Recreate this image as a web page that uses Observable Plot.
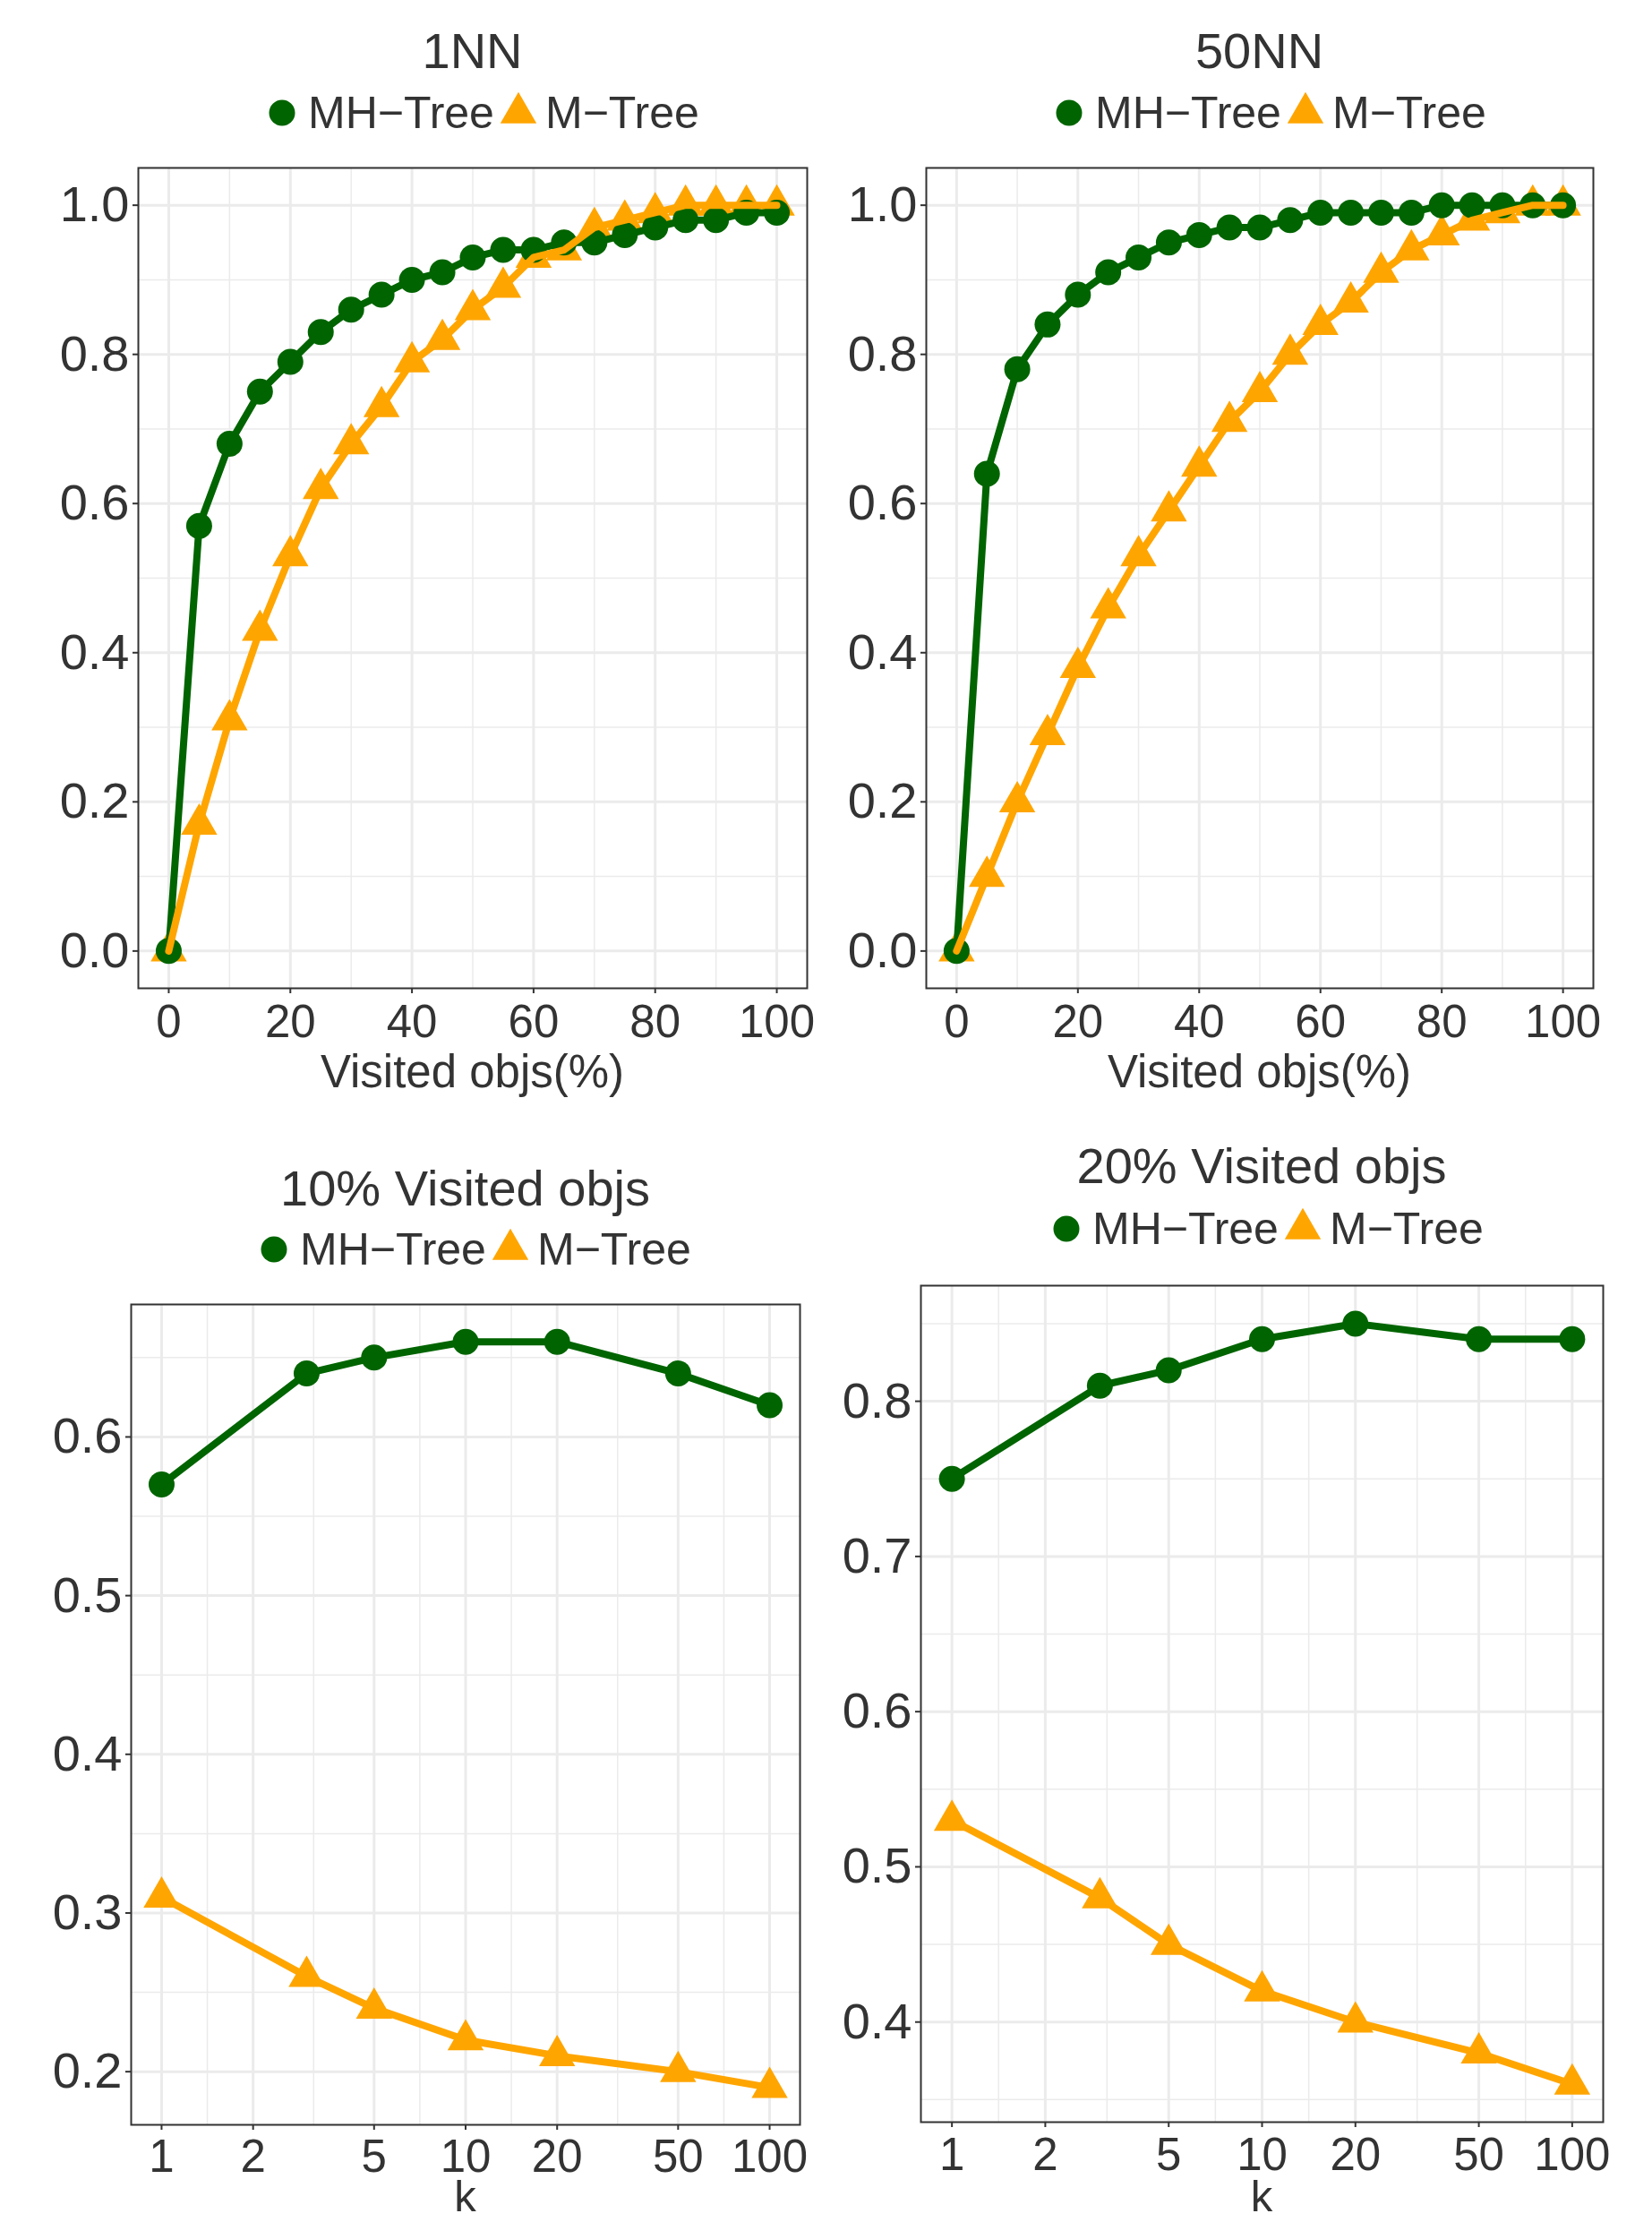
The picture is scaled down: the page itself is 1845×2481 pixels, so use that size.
<!DOCTYPE html>
<html><head><meta charset="utf-8">
<script src="https://cdn.jsdelivr.net/npm/d3@7"></script>
<script src="https://cdn.jsdelivr.net/npm/@observablehq/plot@0.6"></script>
<style>
body{margin:0;background:#fff;}
#root{position:relative;width:1845px;height:2481px;overflow:hidden;background:#fff;font-family:"Liberation Sans",Arial,Helvetica,sans-serif;color:#333333;}
.abs{position:absolute;white-space:nowrap;}
</style></head><body><div id="root"></div>
<script>
// ---------- data ----------
const visitedPct = [0, 5, 10, 15, 20, 25, 30, 35, 40, 45, 50, 55, 60, 65, 70, 75, 80, 85, 90, 95, 100];
const mh1NN  = [0, 0.57, 0.68, 0.75, 0.79, 0.83, 0.86, 0.88, 0.90, 0.91, 0.93, 0.94, 0.94, 0.95, 0.95, 0.96, 0.97, 0.98, 0.98, 0.99, 0.99];
const m1NN   = [0, 0.17, 0.31, 0.43, 0.53, 0.62, 0.68, 0.73, 0.79, 0.82, 0.86, 0.89, 0.93, 0.94, 0.97, 0.98, 0.99, 1.00, 1.00, 1.00, 1.00];
const mh50NN = [0, 0.64, 0.78, 0.84, 0.88, 0.91, 0.93, 0.95, 0.96, 0.97, 0.97, 0.98, 0.99, 0.99, 0.99, 0.99, 1.00, 1.00, 1.00, 1.00, 1.00];
const m50NN  = [0, 0.10, 0.20, 0.29, 0.38, 0.46, 0.53, 0.59, 0.65, 0.71, 0.75, 0.80, 0.84, 0.87, 0.91, 0.94, 0.96, 0.98, 0.99, 1.00, 1.00];
const kValues = [1, 3, 5, 10, 20, 50, 100];
const mh10pct = [0.57, 0.64, 0.65, 0.66, 0.66, 0.64, 0.62];
const m10pct  = [0.31, 0.26, 0.24, 0.22, 0.21, 0.20, 0.19];
const mh20pct = [0.75, 0.81, 0.82, 0.84, 0.85, 0.84, 0.84];
const m20pct  = [0.53, 0.48, 0.45, 0.42, 0.40, 0.38, 0.36];
const seriesNames = ["MH\u2212Tree", "M\u2212Tree"];
const panelTitles = ["1NN", "50NN", "10% Visited objs", "20% Visited objs"];
const xTitles = ["Visited objs(%)", "Visited objs(%)", "k", "k"];
const linearXTicks = [0, 20, 40, 60, 80, 100];
const logXTicks = [1, 2, 5, 10, 20, 50, 100];
const yTicksFull = [0, 0.2, 0.4, 0.6, 0.8, 1.0];
const yTicks10 = [0.2, 0.3, 0.4, 0.5, 0.6];
const yTicks20 = [0.4, 0.5, 0.6, 0.7, 0.8];

// ---------- styles ----------
const seriesColors = ["#006400", "#FFA500"];
const FONT = "'Liberation Sans', Arial, Helvetica, sans-serif";
const TEXT = "#333333";
const GRID = "#EBEBEB";
const LINE_W = 8;

// layout: panel rectangles in page coordinates
const layout = [
  {left: 0,   L: 154,  R: 901,  T: 187,  B: 1103, titleBase: 77,   legend: [315, 126],  xTitleBase: 1215, xTitleSize: 51, xPad: 12},
  {left: 922, L: 1034, R: 1779, T: 187,  B: 1103, titleBase: 77,   legend: [1194, 126], xTitleBase: 1215, xTitleSize: 51, xPad: 12},
  {left: 0,   L: 146,  R: 893,  T: 1456, B: 2372, titleBase: 1347, legend: [306, 1395], xTitleBase: 2470, xTitleSize: 49, xPad: 10},
  {left: 922, L: 1028, R: 1790, T: 1435, B: 2369, titleBase: 1322, legend: [1191, 1372], xTitleBase: 2470, xTitleSize: 49, xPad: 11}
];
const panelData = [
  {x: visitedPct, mh: mh1NN,  m: m1NN,   log: false, xTicks: linearXTicks, yTicks: yTicksFull},
  {x: visitedPct, mh: mh50NN, m: m50NN,  log: false, xTicks: linearXTicks, yTicks: yTicksFull},
  {x: kValues,    mh: mh10pct, m: m10pct, log: true,  xTicks: logXTicks,    yTicks: yTicks10},
  {x: kValues,    mh: mh20pct, m: m20pct, log: true,  xTicks: logXTicks,    yTicks: yTicks20}
];

const root = document.getElementById("root");

// text whose box is tight around the glyphs
function textAt(str, x, baseline, size, center) {
  const d = document.createElement("div");
  d.className = "abs";
  d.textContent = str;
  const lh = 0.797 * size;
  const baseInBox = (lh - 1.117 * size) / 2 + 0.905 * size;
  d.style.fontSize = size + "px";
  d.style.lineHeight = lh + "px";
  d.style.height = lh + "px";
  d.style.top = (baseline - baseInBox) + "px";
  if (center) { d.style.left = (x - 600) + "px"; d.style.width = "1200px"; d.style.textAlign = "center"; }
  else d.style.left = x + "px";
  root.appendChild(d);
}

function legendAt(cx, cy) {
  const s = d3.create("svg").attr("width", 330).attr("height", 60)
    .style("position", "absolute").style("left", (cx - 20) + "px").style("top", (cy - 30) + "px")
    .style("overflow", "visible");
  s.append("circle").attr("cx", 20).attr("cy", 30).attr("r", 14.5).attr("fill", seriesColors[0]);
  s.append("path").attr("transform", `translate(${20 + 264},30)`)
    .attr("d", d3.symbol(d3.symbolTriangle, Math.PI * 15 * 15)()).attr("fill", seriesColors[1]);
  root.appendChild(s.node());
  textAt(seriesNames[0], cx + 29, cy + 18, 50, false);
  textAt(seriesNames[1], cx + 294, cy + 18, 50, false);
}

// ggplot-style minor breaks: midpoints between majors (extended by one step), in transformed space
function minorBreaks(major, domain, log) {
  const f = log ? Math.log10 : (v => v), inv = log ? (v => Math.pow(10, v)) : (v => v);
  const b = major.map(f);
  const step = b[1] - b[0];
  const ext = [b[0] - step, ...b, b[b.length - 1] + step];
  const out = [];
  for (let i = 0; i < ext.length - 1; i++) out.push(inv((ext[i] + ext[i + 1]) / 2));
  const [lo, hi] = domain;
  return out.filter(v => v >= lo && v <= hi);
}

panelData.forEach((p, i) => {
  const g = layout[i];
  const rowsMH = p.x.map((x, j) => ({x, y: p.mh[j], s: seriesNames[0]}));
  const rowsM  = p.x.map((x, j) => ({x, y: p.m[j],  s: seriesNames[1]}));
  const [ylo, yhi] = d3.extent([...p.mh, ...p.m]);
  const ypad = 0.05 * (yhi - ylo);
  const yDomain = [ylo - ypad, yhi + ypad];
  let xDomain;
  if (p.log) {
    const [a, b] = d3.extent(p.x).map(Math.log10);
    const pad = 0.05 * (b - a);
    xDomain = [Math.pow(10, a - pad), Math.pow(10, b + pad)];
  } else {
    const [a, b] = d3.extent(p.x);
    const pad = 0.05 * (b - a);
    xDomain = [a - pad, b + pad];
  }
  const svgTop = g.T - 27;
  const svgBottom = g.B + 72;
  const height = svgBottom - svgTop;

  const xAxisOpts = {tickSize: 6, tickPadding: g.xPad, fontSize: 51, color: TEXT, strokeWidth: 2, label: null, tickFormat: d => String(d)};
  if (p.log) xAxisOpts.ticks = Infinity; // make the log scale use our formatter for every tick

  const chart = Plot.plot({
    width: 922, height,
    marginLeft: g.L - g.left, marginRight: g.left + 922 - g.R,
    marginTop: g.T - svgTop, marginBottom: svgBottom - g.B,
    style: {fontFamily: FONT, background: "transparent", overflow: "visible", color: TEXT},
    x: {type: p.log ? "log" : "linear", domain: xDomain},
    y: {domain: yDomain},
    color: {domain: seriesNames, range: seriesColors},
    symbol: {domain: seriesNames, range: ["circle", "triangle"]},
    marks: [
      Plot.gridX(minorBreaks(p.xTicks, xDomain, p.log), {stroke: GRID, strokeOpacity: 1, strokeWidth: 1.5}),
      Plot.gridY(minorBreaks(p.yTicks, yDomain, false), {stroke: GRID, strokeOpacity: 1, strokeWidth: 1.5}),
      Plot.gridX(p.xTicks, {stroke: GRID, strokeOpacity: 1, strokeWidth: 3}),
      Plot.gridY(p.yTicks, {stroke: GRID, strokeOpacity: 1, strokeWidth: 3}),
      Plot.dot(rowsM, {x: "x", y: "y", fill: "s", symbol: "s", r: 15}),
      Plot.dot(rowsMH, {x: "x", y: "y", fill: "s", symbol: "s", r: 14.5}),
      Plot.line(rowsMH, {x: "x", y: "y", stroke: "s", strokeWidth: LINE_W}),
      Plot.line(rowsM, {x: "x", y: "y", stroke: "s", strokeWidth: LINE_W}),
      Plot.frame({stroke: TEXT, strokeWidth: 2}),
      Plot.axisX(p.xTicks, xAxisOpts),
      Plot.axisY(p.yTicks, {tickSize: 6, tickPadding: 4, fontSize: 56, color: TEXT, strokeWidth: 2, label: null, tickFormat: d3.format(".1f")})
    ]
  });
  chart.style.position = "absolute";
  chart.style.left = g.left + "px";
  chart.style.top = svgTop + "px";
  chart.style.maxWidth = "none";
  root.appendChild(chart);

  textAt(panelTitles[i], (g.L + g.R) / 2, g.titleBase, 56, true);
  legendAt(g.legend[0], g.legend[1]);
  textAt(xTitles[i], (g.L + g.R) / 2, g.xTitleBase, g.xTitleSize, true);
});
</script>
</body></html>
